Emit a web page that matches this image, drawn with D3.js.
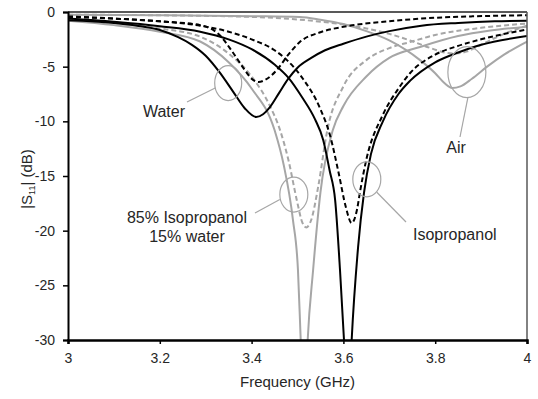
<!DOCTYPE html>
<html>
<head>
<meta charset="utf-8">
<script src="https://cdn.jsdelivr.net/npm/d3@7"></script>
<style>
  body { margin: 0; background: #fff; }
  svg text { font-family: Arial, "Liberation Sans", sans-serif; fill: #262626; }
</style>
</head>
<body>
<div id="chart"></div>
<script>
// Axis ticks
var xTicks = [3, 3.2, 3.4, 3.6, 3.8, 4];
var yTicks = [0, -5, -10, -15, -20, -25, -30];

// Water, solid black
var waterSolidF  = [3.00, 3.10, 3.15, 3.20, 3.24, 3.27, 3.30, 3.33, 3.36, 3.385, 3.41, 3.425, 3.44, 3.46, 3.48, 3.50, 3.53, 3.56, 3.60, 3.65, 3.70, 3.77, 3.85, 3.93, 4.00];
var waterSolidDb = [-0.75, -1.0, -1.25, -1.65, -2.3, -3.0, -4.0, -5.5, -7.3, -8.8, -9.6, -9.35, -8.7, -7.4, -6.1, -5.1, -4.2, -3.5, -2.9, -2.25, -1.75, -1.25, -1.0, -0.85, -0.8];

// Water, dashed black
var waterDashF  = [3.00, 3.10, 3.20, 3.288, 3.33, 3.36, 3.385, 3.40, 3.415, 3.43, 3.455, 3.48, 3.505, 3.55, 3.60, 3.70, 3.77, 3.88, 4.00];
var waterDashDb = [-0.45, -0.6, -0.85, -1.2, -2.1, -3.75, -5.3, -6.1, -6.4, -6.2, -5.3, -3.9, -2.75, -1.85, -1.35, -0.85, -0.6, -0.4, -0.3];

// 85% isopropanol / 15% water, solid grey
var mixSolidF  = [3.00, 3.10, 3.20, 3.288, 3.35, 3.40, 3.45, 3.47, 3.49, 3.501, 3.507, 3.5146, 3.5222, 3.534, 3.55, 3.577, 3.60, 3.65, 3.70, 3.767, 3.85, 3.92, 4.00];
var mixSolidDb = [-0.8, -1.2, -1.8, -2.7, -4.6, -7.0, -10.8, -14.0, -19.0, -23.6, -30, -38, -30, -23.6, -16.5, -10.8, -8.6, -5.9, -4.2, -3.2, -2.2, -1.7, -1.35];

// 85% isopropanol / 15% water, dashed grey
var mixDashF  = [3.00, 3.10, 3.20, 3.288, 3.35, 3.40, 3.44, 3.462, 3.48, 3.50, 3.51, 3.519, 3.53, 3.545, 3.565, 3.60, 3.65, 3.70, 3.745, 3.80, 3.90, 4.00];
var mixDashDb = [-0.6, -0.95, -1.5, -2.26, -3.8, -5.9, -8.6, -10.8, -13.5, -17.5, -19.2, -19.7, -19.0, -16.0, -10.8, -6.8, -4.4, -3.3, -2.75, -2.1, -1.45, -1.05];

// Isopropanol, solid black
var isoSolidF  = [3.00, 3.10, 3.20, 3.288, 3.35, 3.40, 3.45, 3.48, 3.51, 3.538, 3.556, 3.57, 3.582, 3.5926, 3.6013, 3.6096, 3.618, 3.632, 3.645, 3.66, 3.686, 3.72, 3.745, 3.80, 3.85, 3.90, 4.00];
var isoSolidDb = [-0.6, -0.9, -1.3, -1.8, -2.5, -3.4, -4.8, -6.0, -7.8, -9.8, -11.7, -14.5, -17.2, -23.6, -30, -38, -30, -21.5, -16.5, -13.0, -10.0, -7.5, -6.3, -4.6, -3.7, -3.0, -2.2];

// Isopropanol, dashed black
var isoDashF  = [3.00, 3.10, 3.20, 3.288, 3.35, 3.40, 3.45, 3.477, 3.51, 3.549, 3.571, 3.59, 3.605, 3.618, 3.63, 3.636, 3.65, 3.686, 3.72, 3.745, 3.80, 3.85, 3.90, 4.00];
var isoDashDb = [-0.4, -0.6, -0.85, -1.25, -1.8, -2.5, -3.5, -4.4, -6.0, -8.8, -11.3, -14.8, -17.8, -19.3, -18.0, -16.5, -13.5, -9.4, -7.0, -5.6, -3.9, -3.1, -2.5, -1.6];

// Air, solid grey
var airSolidF  = [3.00, 3.20, 3.40, 3.505, 3.55, 3.60, 3.65, 3.70, 3.767, 3.80, 3.82, 3.837, 3.855, 3.88, 3.913, 3.95, 4.00];
var airSolidDb = [-0.25, -0.3, -0.38, -0.45, -0.7, -1.1, -1.75, -2.6, -4.4, -5.6, -6.5, -6.95, -6.8, -6.1, -5.0, -3.9, -2.7];

// Air, dashed grey
var airDashF  = [3.00, 3.20, 3.40, 3.505, 3.60, 3.65, 3.70, 3.745, 3.79, 3.82, 3.843, 3.87, 3.90, 3.95, 4.00];
var airDashDb = [-0.25, -0.3, -0.45, -0.7, -1.15, -1.5, -2.0, -2.6, -3.3, -3.7, -3.8, -3.6, -3.0, -2.0, -1.25];

var series = [
  { name: 'Air',               f: airSolidF,   db: airSolidDb,   color: '#a6a6a6', dash: null },
  { name: 'Air',               f: airDashF,    db: airDashDb,    color: '#a6a6a6', dash: '5,3' },
  { name: '85% Isopropanol',   f: mixSolidF,   db: mixSolidDb,   color: '#a6a6a6', dash: null },
  { name: '85% Isopropanol',   f: mixDashF,    db: mixDashDb,    color: '#a6a6a6', dash: '5,3' },
  { name: 'Water',             f: waterSolidF, db: waterSolidDb, color: '#000',    dash: null },
  { name: 'Water',             f: waterDashF,  db: waterDashDb,  color: '#000',    dash: '5,3' },
  { name: 'Isopropanol',       f: isoSolidF,   db: isoSolidDb,   color: '#000',    dash: null },
  { name: 'Isopropanol',       f: isoDashF,    db: isoDashDb,    color: '#000',    dash: '5,3' }
];

// Chart Setup
var margin = { top: 12, right: 11, bottom: 59, left: 68 };
var width = 538 - margin.left - margin.right;
var height = 399 - margin.top - margin.bottom;

var xScale = d3.scaleLinear().domain([3, 4]).range([0, width]);
var yScale = d3.scaleLinear().domain([-30, 0]).range([height, 0]);

var svg = d3.select('#chart')
  .append('svg')
  .attr('width', 538)
  .attr('height', 399);
var chart = svg.append('g')
  .attr('transform', 'translate(' + margin.left + ',' + margin.top + ')');

chart.append('clipPath')
  .attr('id', 'plot-clip')
  .append('rect')
  .attr('width', width)
  .attr('height', height);

// Curves
var line = d3.line()
  .x(function (d) { return xScale(d[0]); })
  .y(function (d) { return yScale(d[1]); })
  .curve(d3.curveMonotoneX);

chart.append('g')
  .attr('clip-path', 'url(#plot-clip)')
  .selectAll('path')
  .data(series)
  .enter()
  .append('path')
  .attr('d', function (s) {
    return line(s.f.map(function (f, i) { return [f, s.db[i]]; }));
  })
  .attr('fill', 'none')
  .attr('stroke', function (s) { return s.color; })
  .attr('stroke-width', 2)
  .attr('stroke-dasharray', function (s) { return s.dash; });

// Frame (top and right)
chart.append('line')
  .attr('x1', 0).attr('x2', width)
  .attr('y1', 0).attr('y2', 0)
  .attr('stroke', '#595959').attr('stroke-width', 2);
chart.append('line')
  .attr('x1', width).attr('x2', width)
  .attr('y1', 0).attr('y2', height)
  .attr('stroke', '#595959').attr('stroke-width', 1.5);

// X-Axis
var xAxis = d3.axisBottom(xScale)
  .tickValues(xTicks)
  .tickFormat(function (d) { return String(d); })
  .tickSizeOuter(0)
  .tickSize(4)
  .tickPadding(9);
var gx = chart.append('g')
  .attr('transform', 'translate(0,' + height + ')')
  .call(xAxis);
gx.select('.domain').attr('stroke', '#000').attr('stroke-width', 2.5);
gx.selectAll('.tick line').attr('stroke', '#000').attr('stroke-width', 1.5);
gx.selectAll('text').style('font-size', '14px');

// Y-Axis
var yAxis = d3.axisLeft(yScale)
  .tickValues(yTicks)
  .tickFormat(function (d) { return String(d); })
  .tickSizeOuter(0)
  .tickSize(5)
  .tickPadding(8);
var gy = chart.append('g').call(yAxis);
gy.select('.domain').attr('stroke', '#000').attr('stroke-width', 2);
gy.selectAll('.tick line').attr('stroke', '#000').attr('stroke-width', 1.5);
gy.selectAll('text').style('font-size', '14px');

// Axis titles
svg.append('text')
  .attr('x', margin.left + width / 2)
  .attr('y', 387)
  .attr('text-anchor', 'middle')
  .style('font-size', '15px')
  .text('Frequency (GHz)');

var yTitle = svg.append('text')
  .attr('transform', 'translate(32,' + (margin.top + height / 2 + 3) + ')rotate(-90)')
  .attr('text-anchor', 'middle')
  .style('font-size', '15px');
yTitle.append('tspan').text('|S');
yTitle.append('tspan').attr('dy', 3).style('font-size', '9px').text('11');
yTitle.append('tspan').attr('dy', -3).text('| (dB)');

// Annotations: ellipse centre in data units, radii in px, leader end and label
var notes = [
  { cf: 3.349, cdb: -6.5,  rx: 13.5, ry: 17.5, from: [-13, 5],  to: [187, 102], lines: ['Water'], lx: 185, ly: 117, anchor: 'end' },
  { cf: 3.492, cdb: -16.7, rx: 14,   ry: 17.5, from: [-14, 5],  to: [255, 213], lines: ['85% Isopropanol', '15% water'], lx: 187, ly: 223, anchor: 'middle' },
  { cf: 3.651, cdb: -15.3, rx: 14,   ry: 17.5, from: [10, 13],  to: [406, 222], lines: ['Isopropanol'], lx: 413, ly: 240, anchor: 'start' },
  { cf: 3.869, cdb: -5.5,  rx: 19,   ry: 25.5, from: [1, 25.5], to: [460, 137], lines: ['Air'], lx: 456, ly: 153, anchor: 'middle' }
];

notes.forEach(function (n) {
  var cx = margin.left + xScale(n.cf);
  var cy = margin.top + yScale(n.cdb);
  svg.append('ellipse')
    .attr('cx', cx).attr('cy', cy)
    .attr('rx', n.rx).attr('ry', n.ry)
    .attr('fill', 'none')
    .attr('stroke', '#a6a6a6')
    .attr('stroke-width', 1.2);
  svg.append('line')
    .attr('x1', cx + n.from[0]).attr('y1', cy + n.from[1])
    .attr('x2', n.to[0]).attr('y2', n.to[1])
    .attr('stroke', '#a6a6a6')
    .attr('stroke-width', 1.2);
  var t = svg.append('text')
    .attr('x', n.lx).attr('y', n.ly)
    .attr('text-anchor', n.anchor)
    .style('font-size', '16px');
  n.lines.forEach(function (s, i) {
    t.append('tspan').attr('x', n.lx).attr('dy', i === 0 ? 0 : 19).text(s);
  });
});
</script>
</body>
</html>
